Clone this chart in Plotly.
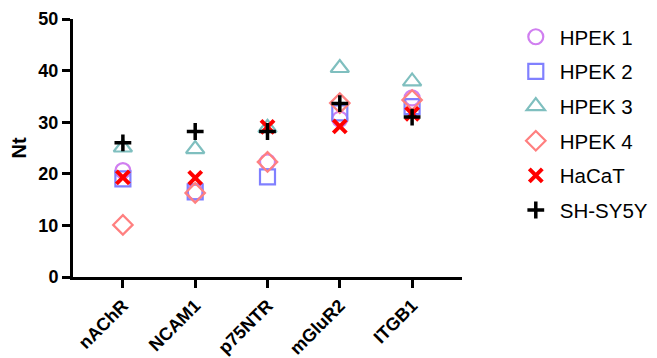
import plotly.graph_objects as go

categories = ["nAChR", "NCAM1", "p75NTR", "mGluR2", "ITGB1"]
series_names = ["HPEK 1", "HPEK 2", "HPEK 3", "HPEK 4", "HaCaT", "SH-SY5Y"]
hpek1 = [20.6, 16.5, 22.3, 30.6, 34.7]
hpek2 = [19.0, 16.5, 19.4, 31.8, 33.0]
hpek3 = [25.1, 24.8, 28.9, 40.5, 37.9]
hpek4 = [10.1, 16.3, 22.3, 33.7, 34.3]
hacat = [19.3, 19.2, 29.1, 29.2, 31.6]
shsy5y = [26.0, 28.2, 28.2, 33.6, 31.0]
y_ticks = [0, 10, 20, 30, 40, 50]

values = [hpek1, hpek2, hpek3, hpek4, hacat, shsy5y]
symbols = ["circle-open", "square-open", "triangle-up-open", "diamond-open", "x-thin-open", "cross-thin-open"]
colors = ["#D07FF0", "#8080FF", "#7FBFBF", "#FF8080", "#FF0000", "#000000"]
sizes = [15, 15, 16, 15, 13, 12]
widths = [2.2, 2.2, 2.2, 2.2, 4, 3.5]

font_family = "Arial, Liberation Sans, sans-serif"

fig = go.Figure()
for i, (name, vals) in enumerate(zip(series_names, values)):
    fig.add_trace(go.Scatter(
        x=list(range(len(categories))), y=vals, mode="markers", name=name,
        legendgroup=name,
        marker=dict(symbol=symbols[i], size=sizes[i], color=colors[i],
                    line=dict(color=colors[i], width=widths[i])),
    ))

fig.update_layout(
    width=649, height=350,
    margin=dict(l=65, r=195, t=11, b=81, autoexpand=False),
    plot_bgcolor="white", paper_bgcolor="white",
    font=dict(family=font_family, color="black"),
    showlegend=True,
    legend=dict(x=1.128, y=1.008, xanchor="left", yanchor="top",
                font=dict(size=20.5, family=font_family, color="black"),
                tracegroupgap=5, itemwidth=38, maxheight=340),
    xaxis=dict(
        range=[-0.69, 4.69], tickmode="array",
        tickvals=list(range(len(categories))), ticktext=categories,
        tickangle=-45, showline=True, linewidth=3, linecolor="black",
        ticks="outside", ticklen=8, tickwidth=3, tickcolor="black",
        showgrid=False, zeroline=False, automargin=False,
        tickfont=dict(size=18, family=font_family, color="black", weight="bold"),
    ),
    yaxis=dict(
        range=[0, 50], tickvals=y_ticks, showline=True, linewidth=3, linecolor="black",
        ticks="outside", ticklen=8, tickwidth=3, tickcolor="black",
        showgrid=False, zeroline=False, automargin=False,
        tickfont=dict(size=18, family=font_family, color="black", weight="bold"),
        title=dict(text="<b>Nt</b>", font=dict(size=20, family=font_family, color="black"), standoff=14),
    ),
)

fig.write_html("out.html")
